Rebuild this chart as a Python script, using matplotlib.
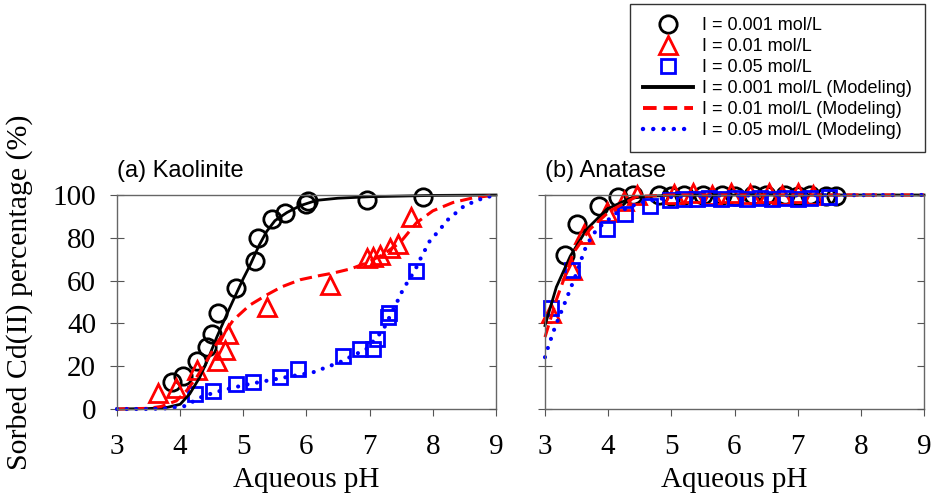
import matplotlib
matplotlib.use("Agg")
import matplotlib.pyplot as plt
from matplotlib.lines import Line2D

# ── Data: (a) Kaolinite ──────────────────────────────────────
kao_ph_001 = [3.87, 4.05, 4.26, 4.42, 4.50, 4.60, 4.89, 5.18, 5.24, 5.45, 5.66, 6.00, 6.02, 6.95, 7.85]
kao_s_001 = [12.4, 15.6, 22.6, 28.9, 35.2, 44.7, 56.5, 69.0, 80.0, 88.7, 91.8, 95.8, 97.0, 97.5, 99.0]
kao_ph_01 = [3.65, 3.94, 4.26, 4.58, 4.71, 4.76, 5.37, 6.37, 6.95, 7.05, 7.16, 7.32, 7.45, 7.66]
kao_s_01 = [7.7, 10.0, 18.0, 22.6, 27.4, 35.2, 47.8, 58.0, 70.6, 71.0, 72.0, 75.3, 77.0, 89.5]
kao_ph_05 = [4.23, 4.52, 4.89, 5.16, 5.58, 5.87, 6.58, 6.85, 7.06, 7.11, 7.29, 7.31, 7.74]
kao_s_05 = [6.9, 8.5, 11.6, 12.4, 14.8, 18.7, 25.0, 28.0, 28.0, 32.9, 43.2, 45.0, 64.3]

kao_fit_ph_001 = [3.0, 3.5, 3.8, 4.0, 4.15, 4.31, 4.45, 4.58, 4.75, 4.89, 5.0, 5.1, 5.25,
                  5.37, 5.5, 5.69, 5.9, 6.16, 6.5, 7.0, 8.0, 9.0]
kao_fit_s_001 = [0, 0.2, 0.8, 2.2, 7.0, 14.8, 24.0, 33.6, 45.0, 54.0, 61.0, 66.8, 76.5,
                 83.0, 88.0, 91.8, 95.0, 97.5, 98.5, 99.2, 99.8, 100]
kao_fit_ph_01 = [3.0, 3.5, 3.7, 3.94, 4.1, 4.26, 4.42, 4.58, 4.72, 4.84, 5.1, 5.37, 5.6, 5.9,
                 6.2, 6.42, 6.7, 6.95, 7.2, 7.48, 7.74, 8.0, 8.32, 8.64, 9.0]
kao_fit_s_01 = [0, 0.3, 1.2, 3.8, 8.5, 14.8, 22.5, 30.7, 36.5, 41.5, 48.5, 53.3, 57.0, 60.4,
                62.3, 63.5, 65.5, 68.2, 72.0, 77.7, 87.0, 92.6, 96.5, 98.7, 100]
kao_fit_ph_05 = [3.0, 3.5, 3.8, 4.08, 4.31, 4.55, 4.84, 5.1, 5.37, 5.7, 6.1, 6.53, 6.95, 7.21,
                 7.45, 7.53, 7.72, 7.8, 7.96, 8.09, 8.22, 8.5, 8.8, 9.0]
kao_fit_s_05 = [0, 0, 0.3, 1.4, 5.3, 7.8, 10.0, 11.7, 13.2, 15.0, 17.1, 21.9, 28.1, 36.8,
                51.0, 56.0, 65.0, 70.0, 79.0, 83.0, 88.0, 95.0, 98.6, 100]

# ── Data: (b) Anatase ────────────────────────────────────────
ana_ph_001 = [3.32, 3.5, 3.85, 4.16, 4.4, 4.8, 5.0, 5.2, 5.5, 5.8, 6.0, 6.3, 6.5, 6.8, 7.0, 7.2, 7.45, 7.6]
ana_s_001 = [72, 86.3, 95, 99, 100, 100, 99.5, 100, 99.8, 100, 99.5, 100, 99.8, 100, 99.5, 100, 99.5, 99.5]
ana_ph_01 = [3.1, 3.42, 3.62, 3.98, 4.25, 4.45, 5.05, 5.35, 5.65, 5.95, 6.25, 6.55, 6.75, 7.0, 7.25]
ana_s_01 = [45, 65, 82, 92, 97, 100, 100.5, 101, 100, 101, 100.5, 101, 100, 101, 100]
ana_ph_05 = [3.1, 3.42, 3.98, 4.27, 4.67, 4.98, 5.2, 5.4, 5.6, 5.78, 6.0, 6.2, 6.4, 6.6, 6.8, 7.0, 7.2, 7.5]
ana_s_05 = [47, 65, 84, 91, 95, 97.5, 98, 98, 98.5, 98, 98.5, 98, 98.5, 98, 98.5, 98, 98.5, 99]

ana_fit_ph_001 = [3.0, 3.18, 3.4, 3.66, 3.98, 4.35, 4.7, 5.0, 6.0, 9.0]
ana_fit_s_001 = [39, 57, 71.4, 84, 93.4, 98.5, 99.5, 99.8, 100, 100]
ana_fit_ph_01 = [3.0, 3.18, 3.45, 3.71, 4.03, 4.45, 5.0, 9.0]
ana_fit_s_01 = [33.6, 51, 73, 84, 92.6, 99.3, 100, 100]
ana_fit_ph_05 = [3.0, 3.05, 3.16, 3.29, 3.4, 3.48, 3.63, 3.71, 3.82, 4.14, 4.51, 4.98, 5.5, 9.0]
ana_fit_s_05 = [24.2, 29, 38.4, 47.8, 56, 62, 74.5, 79, 84, 91.8, 96.5, 99, 99.7, 100]

labels = ["I = 0.001 mol/L", "I = 0.01 mol/L", "I = 0.05 mol/L",
          "I = 0.001 mol/L (Modeling)", "I = 0.01 mol/L (Modeling)", "I = 0.05 mol/L (Modeling)"]

SERIF = "Liberation Serif"
SANS = "Liberation Sans"
W, H = 931, 497

fig = plt.figure(figsize=(W / 100, H / 100), dpi=100)
ax_a = fig.add_axes([117 / W, 1 - 409 / H, (496 - 117) / W, (409 - 195) / H])
ax_b = fig.add_axes([545 / W, 1 - 409 / H, (924 - 545) / W, (409 - 195) / H])

panels = [
    (ax_a, "(a) Kaolinite",
     (kao_ph_001, kao_s_001), (kao_ph_01, kao_s_01), (kao_ph_05, kao_s_05),
     (kao_fit_ph_001, kao_fit_s_001), (kao_fit_ph_01, kao_fit_s_01), (kao_fit_ph_05, kao_fit_s_05)),
    (ax_b, "(b) Anatase",
     (ana_ph_001, ana_s_001), (ana_ph_01, ana_s_01), (ana_ph_05, ana_s_05),
     (ana_fit_ph_001, ana_fit_s_001), (ana_fit_ph_01, ana_fit_s_01), (ana_fit_ph_05, ana_fit_s_05)),
]

mk = dict(linestyle="none", markerfacecolor="none", markeredgewidth=2.0, clip_on=False)
for ax, title, d1, d2, d3, f1, f2, f3 in panels:
    ax.plot(*d1, marker="o", markersize=12.5, markeredgecolor="black", **mk)
    ax.plot(*d2, marker="^", markersize=12.5, markeredgecolor="red", **mk)
    ax.plot(*d3, marker="s", markersize=10, markeredgecolor="blue", **mk)
    ax.plot(*f1, color="black", linewidth=2.0, clip_on=False)
    ax.plot(*f2, color="red", linewidth=2.2, dashes=(4, 2), clip_on=False)
    ax.plot(*f3, color="blue", linewidth=3.0, dashes=(0.01, 2.3), dash_capstyle="round", clip_on=False)

    ax.set_xlim(3, 9)
    ax.set_ylim(0, 100)
    ax.set_xticks(range(3, 10))
    ax.set_yticks(range(0, 101, 20))
    for s in ax.spines.values():
        s.set_color("#666666")
        s.set_linewidth(1.0)
    ax.tick_params(axis="x", direction="out", length=5, color="#555555",
                   labelsize=21, pad=13, top=False)
    ax.tick_params(axis="y", direction="inout", length=10, color="#555555",
                   labelsize=21, pad=10, right=False)
    for lab in ax.get_xticklabels() + ax.get_yticklabels():
        lab.set_fontfamily(SERIF)
    ax.set_xlabel("Aqueous pH", fontsize=21, family=SERIF, labelpad=5)
    ax.text(0.0, 1.06, title, transform=ax.transAxes, fontsize=17, family=SANS,
            ha="left", va="bottom")

    # inward ticks on the right spine
    ax_r = ax.twinx()
    ax_r.set_ylim(0, 100)
    ax_r.set_yticks(range(0, 101, 20))
    ax_r.tick_params(axis="y", direction="in", length=5, color="#555555", labelright=False)
    for s in ax_r.spines.values():
        s.set_visible(False)

ax_b.tick_params(axis="y", labelleft=False)

fig.text(20 / W, 1 - 292 / H, "Sorbed Cd(II) percentage (%)", rotation=90,
         fontsize=21.5, family=SERIF, ha="center", va="center")

# ── Legend ───────────────────────────────────────────────────
handles = [
    Line2D([], [], marker="o", markersize=12.5, markeredgecolor="black", **mk),
    Line2D([], [], marker="^", markersize=12.5, markeredgecolor="red", **mk),
    Line2D([], [], marker="s", markersize=10, markeredgecolor="blue", **mk),
    Line2D([], [], color="black", linewidth=2.8),
    Line2D([], [], color="red", linewidth=2.8, dashes=(3.5, 1.8)),
    Line2D([], [], color="blue", linewidth=3.2, dashes=(0.01, 2.3), dash_capstyle="round"),
]
leg = fig.legend(handles, labels, loc="upper right", bbox_to_anchor=(925 / W, 1 - 4 / H),
                 prop={"family": SANS, "size": 13}, frameon=True, fancybox=False,
                 edgecolor="black", handlelength=2.75, labelspacing=0.22,
                 borderpad=0.72, handletextpad=0.5, borderaxespad=0)
leg.get_frame().set_linewidth(1.0)

fig.savefig("out.png", dpi=100)
plt.close()
